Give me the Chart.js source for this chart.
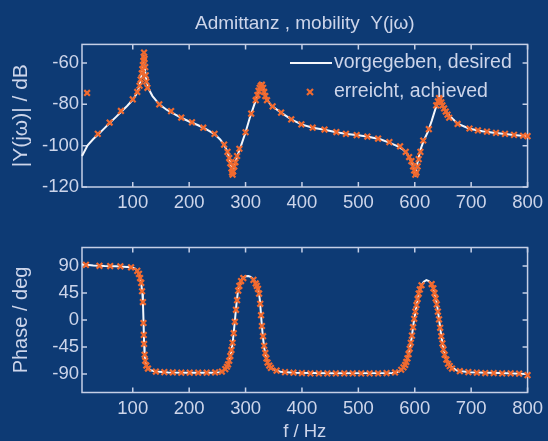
<!DOCTYPE html>
<html><head><meta charset="utf-8">
<script src="https://cdn.jsdelivr.net/npm/chart.js@4.4.1/dist/chart.umd.min.js"></script>
<style>
html,body{margin:0;padding:0;background:#0d3a74;width:548px;height:441px;overflow:hidden;}
canvas{position:absolute;left:0;}
#c1{top:0;} #c2{top:230px;}
</style></head><body>
<canvas id="c1" width="548" height="230"></canvas>
<canvas id="c2" width="548" height="211"></canvas>
<script>
// ---------- data ----------
const freqTicks = [100,200,300,400,500,600,700,800];
const magTicks = [-120,-100,-80,-60];
const phaseTicks = [-90,-45,0,45,90];

const magFreq = [10,20,30,40,50,60,70,80,90,100,106,110,114,117,119,121,124,128,135,147,160,170,186,200,215,230,245,255,262,268,273,277,281,286,292,300,307,315,322,328,333,338,345,363,381,399,419,440,461,480,500,520,540,555,570,580,588,595,601,605,610,616,623,630,638,644,650,658,667,676,697,720,740,760,780,800];
const magDesired = [-105,-99.8,-96.8,-94.2,-91.5,-88.8,-86.2,-83.5,-80.8,-77.8,-75.2,-72.8,-68.5,-62.5,-56,-62,-68,-72.5,-76,-80,-82.6,-84.1,-86.5,-88.3,-90,-92,-94.4,-97,-99.6,-103,-108,-112.5,-109,-104.5,-100,-93.5,-87,-80.5,-75,-70.5,-74,-77.5,-80.5,-84,-87.3,-89.7,-91.3,-92.3,-93.5,-94.4,-95,-95.8,-97,-98.5,-100.3,-102,-104.5,-108.5,-113.5,-108,-102,-97.5,-93.5,-88,-81,-77,-81,-84.5,-87,-89.3,-91.8,-93,-93.8,-94.4,-95,-95.5];

const achMagFreq = [19,38,59,79,100,108,112,114,116,117,118,119,119.5,120,121,122,123,124,126,147,168,186,205,225,245,262,268,271,273,275,276,277,278,280,282,285,289,300,310,318,321,323,325,327,329,331,333,335,338,348,363,381,399,419,440,461,478,497,516,535,555,574,584,590,594,597,599,601,603,605,607,610,615,625,638,641,643,645,647,649,652,655,658,661,676,697,712,728,744,760,776,792,800];
const achMag = [-74.5,-94.3,-88.8,-83.2,-77.6,-74,-71,-68,-65,-63,-61,-59,-57,-55,-58,-62,-66,-69,-72,-80,-83.3,-86.4,-88.7,-91.3,-94.3,-99.5,-103,-106,-108.5,-111,-113,-114,-112.5,-110,-108,-105,-101.5,-93.5,-84.5,-78,-75.5,-73.5,-72,-71,-70.5,-72,-74,-76,-78,-81,-84,-87.3,-89.7,-91.3,-92.2,-93.4,-94.3,-94.9,-95.6,-96.6,-98.3,-100.3,-103,-105.5,-107.5,-110,-112,-114,-113,-110,-106.5,-103,-97.5,-92,-80.5,-78.5,-77,-77.5,-79,-80.5,-82,-83.5,-85,-86.5,-89.5,-91.7,-92.6,-93.2,-93.8,-94.3,-94.8,-95.2,-95.4];

const phaseFreq = [10,30,50,70,90,100,105,109,112,115,117,118,119,120,121,123,126,132,141,163,200,240,256,262,268,272,275,277.5,280,282,284,286.5,289,292,296,300,305,309,313,317.6,321,323.5,325.5,327,328.5,330.5,333,336,340,347,355,362,385,450,560,572,580,586,590,594,598,603,607.6,612,616,620.6,625,629,632,635,638,640,644,648,651,655,660,667,675,697,750,800];
const phaseDesired = [93,91,90,89.5,88.5,87.5,85,81,74,62,45,30,0,-35,-60,-72,-80,-84,-86,-87.5,-88,-88,-87,-84,-77,-67,-52,-35,-12,8,28,48,58,66,71,73,73.5,72,69,63,55,47,32,14,-5,-26,-46,-62,-73,-81,-84.5,-86.5,-88,-89,-88.5,-86,-80,-68,-55,-33,-5,23,45,58,64,66.5,65,61,54,45,33,22,-5,-33,-48,-63,-72,-80,-84.5,-87,-88.5,-90];

const achPhaseFreq = [17,41,60,78,97,108,111,113,115,116.5,118,119,119.5,120,121,122,124,127,141,156,171,186,201,216,231,246,258,264,267,269,271,273,275,277,279,281,283,285,287,289,292,296,314,318,320,322,324,326,327.5,329,331,333,335,337,339,342,345,355,370,385,400,415,430,445,460,475,490,505,520,535,550,565,576,580,583,585,587,589,591,593,595,597,599,601,603,605,607,609,612,630,633,635,637,639,641,643,645,647,649,651,653,656,659,662,666,680,695,710,725,740,755,770,785,800];
const achPhase = [92,90.5,90,89.5,88,82,77,70,62,48,30,-5,-25,-40,-58,-68,-76,-81,-86,-87,-87.5,-88,-88,-88,-88,-87.5,-86,-82,-78,-74,-68,-60,-50,-38,-22,-3,17,33,49,57,65,70,67,61,57,52,44,27,8,-10,-27,-43,-55,-64,-71,-76,-80,-84.5,-87,-88,-88.5,-89,-89,-89,-89,-89,-89,-89,-89,-89,-88.5,-87.5,-83,-79,-75,-70,-64,-57,-48,-38,-26,-12,2,14,25,35,44,51,58,60,53,45,36,26,14,1,-13,-27,-39,-49,-58,-66,-73,-77,-81,-85.5,-87,-88,-88.5,-88.5,-89,-89,-89.5,-92];

// ---------- style ----------
const TEXT = '#cdd5ea';
const FRAME = '#c5cfe6';
const LINE = '#f4f6fb';
const MARK = '#f06a30';
const FONT = '"Liberation Sans", Arial, Helvetica, sans-serif';
Chart.defaults.font.family = FONT;
Chart.defaults.font.size = 18;
Chart.defaults.color = TEXT;

const pts = (xs, ys) => xs.map((x, i) => ({x, y: ys[i]}));

const framePlugin = {
  id: 'frame',
  beforeDatasetsDraw(chart) {
    const {ctx, chartArea: a, scales: {x, y}} = chart;
    ctx.save();
    ctx.strokeStyle = FRAME; ctx.lineWidth = 1.5;
    ctx.strokeRect(a.left, a.top, a.right - a.left, a.bottom - a.top);
    ctx.beginPath();
    const L = 5;
    x.ticks.forEach(t => {
      const px = x.getPixelForValue(t.value);
      ctx.moveTo(px, a.bottom); ctx.lineTo(px, a.bottom - L);
      ctx.moveTo(px, a.top); ctx.lineTo(px, a.top + L);
    });
    y.ticks.forEach(t => {
      const py = y.getPixelForValue(t.value);
      ctx.moveTo(a.left, py); ctx.lineTo(a.left + L, py);
      ctx.moveTo(a.right, py); ctx.lineTo(a.right - L, py);
    });
    ctx.stroke();
    ctx.restore();
  }
};

const legendPlugin = {
  id: 'innerLegend',
  afterDraw(chart) {
    const ctx = chart.ctx;
    const ds = chart.data.datasets;
    const lineDs = ds.find(d => d.showLine);
    const markDs = ds.find(d => !d.showLine);
    ctx.save();
    ctx.font = '19.5px ' + FONT;
    ctx.textBaseline = 'middle';
    ctx.textAlign = 'left';
    ctx.fillStyle = TEXT;
    ctx.strokeStyle = lineDs.borderColor; ctx.lineWidth = lineDs.borderWidth;
    ctx.beginPath(); ctx.moveTo(290, 63); ctx.lineTo(332, 63); ctx.stroke();
    ctx.fillText(lineDs.label, 334, 63);
    ctx.strokeStyle = markDs.borderColor; ctx.lineWidth = markDs.borderWidth;
    const r = markDs.pointRadius * 0.75, cx = 310, cy = 92;
    ctx.beginPath();
    ctx.moveTo(cx - r, cy - r); ctx.lineTo(cx + r, cy + r);
    ctx.moveTo(cx - r, cy + r); ctx.lineTo(cx + r, cy - r);
    ctx.stroke();
    ctx.fillText(markDs.label, 334, 92);
    ctx.restore();
  }
};

function xScale(height, withTitle) {
  return {
    type: 'linear', min: 10, max: 800,
    grid: {display: false, drawTicks: false},
    border: {display: false},
    ticks: {padding: 5, maxRotation: 0, autoSkip: false, color: TEXT, font: {size: 18.5}},
    afterBuildTicks: s => { s.ticks = freqTicks.map(v => ({value: v})); },
    afterFit: s => { s.height = height; },
    title: withTitle ? {display: true, text: 'f / Hz', color: TEXT, font: {size: 18.5, lineHeight: 1}, padding: {top: 0, bottom: 0}} : {display: false}
  };
}
function yScale(min, max, ticks, title, tsize) {
  return {
    type: 'linear', min, max,
    grid: {display: false, drawTicks: false},
    border: {display: false},
    ticks: {padding: 3, color: TEXT, font: {size: 18.5}},
    afterBuildTicks: s => { s.ticks = ticks.map(v => ({value: v})); },
    afterFit: s => { s.width = 82; },
    title: {display: true, text: title, color: TEXT, font: {size: tsize}, padding: {top: 9, bottom: 0}}
  };
}
function datasets(lx, ly, mx, my) {
  return [
    {label: 'erreicht, achieved', data: pts(mx, my), showLine: false, pointStyle: 'crossRot',
     pointRadius: 4, borderColor: MARK, backgroundColor: MARK, borderWidth: 2.2, pointBorderWidth: 2.2,
     order: 0, clip: 8},
    {label: 'vorgegeben, desired', data: pts(lx, ly), showLine: true, pointRadius: 0,
     borderColor: LINE, borderWidth: 2, tension: 0, order: 1, clip: 2}
  ];
}

new Chart(document.getElementById('c1'), {
  type: 'scatter',
  data: {datasets: datasets(magFreq, magDesired, achMagFreq, achMag)},
  options: {
    responsive: false, animation: false, devicePixelRatio: 1, events: [],
    layout: {padding: {left: 0, right: 20, top: 0, bottom: 0}},
    plugins: {
      legend: {display: false}, tooltip: {enabled: false},
      title: {display: true, fullSize: false, text: 'Admittanz , mobility  Y(jω)', color: TEXT,
              font: {size: 19, weight: 'normal'}, padding: {top: 12, bottom: 9.6}}
    },
    scales: {x: xScale(43, false), y: yScale(-120, -51, magTicks, '|Y(jω)| / dB', 21)}
  },
  plugins: [framePlugin, legendPlugin]
});

new Chart(document.getElementById('c2'), {
  type: 'scatter',
  data: {datasets: datasets(phaseFreq, phaseDesired, achPhaseFreq, achPhase)},
  options: {
    responsive: false, animation: false, devicePixelRatio: 1, events: [],
    layout: {padding: {left: 0, right: 20, top: 17.5, bottom: 0}},
    plugins: {legend: {display: false}, tooltip: {enabled: false}, title: {display: false}},
    scales: {x: xScale(48.5, true), y: yScale(-121, 121, phaseTicks, 'Phase / deg', 20)}
  },
  plugins: [framePlugin]
});
</script>
</body></html>
